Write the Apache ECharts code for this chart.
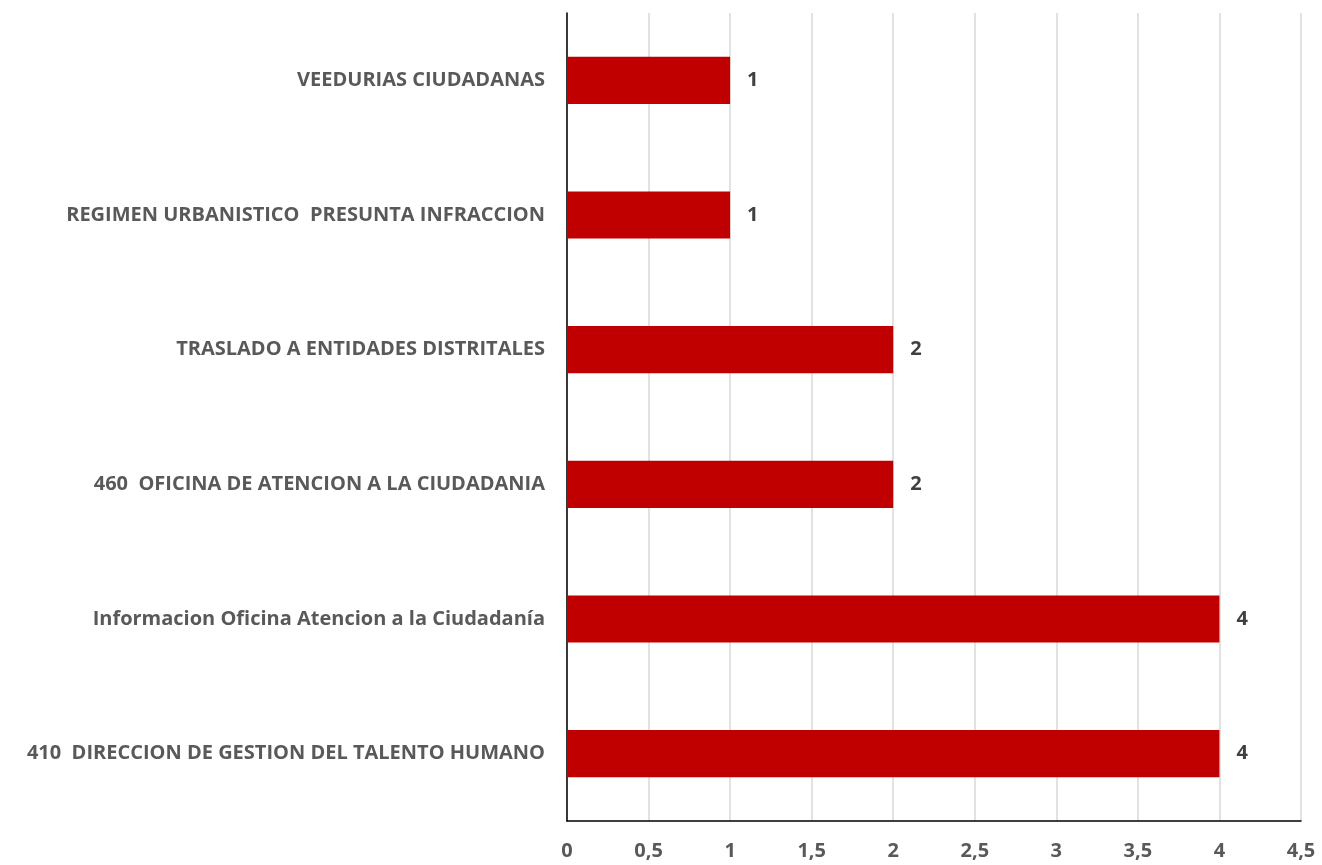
<!DOCTYPE html>
<html><head><meta charset="utf-8">
<script src="https://cdn.jsdelivr.net/npm/echarts@6/dist/echarts.min.js"></script>
<style>html,body{margin:0;padding:0;background:#fff}#c{width:1322px;height:865px}</style>
</head><body><div id="c"></div>
<script>
const categories = [
  "410  DIRECCION DE GESTION DEL TALENTO HUMANO",
  "Informacion Oficina Atencion a la Ciudadanía",
  "460  OFICINA DE ATENCION A LA CIUDADANIA",
  "TRASLADO A ENTIDADES DISTRITALES",
  "REGIMEN URBANISTICO  PRESUNTA INFRACCION",
  "VEEDURIAS CIUDADANAS"
];
const values = [4, 4, 2, 2, 1, 1];
const xTicks = ["0","0,5","1","1,5","2","2,5","3","3,5","4","4,5"];
const FONT = "Open Sans";
const chart = echarts.init(document.getElementById('c'));
chart.setOption({
  animation: false,
  grid: {left: 567, right: 21, top: 13, bottom: 44, containLabel: false},
  xAxis: {
    type: 'value', min: 0, max: 4.5, interval: 0.5,
    axisLine: {show: true, lineStyle: {color: '#000', width: 1.5}},
    axisTick: {show: false},
    splitLine: {show: true, lineStyle: {color: '#d9d9d9', width: 1.5}},
    axisLabel: {
      margin: 20, color: '#595959', fontSize: 20, fontWeight: 'bold', fontFamily: FONT,
      formatter: v => xTicks[Math.round(v / 0.5)]
    }
  },
  yAxis: {
    type: 'category', data: categories,
    axisLine: {show: true, lineStyle: {color: '#000', width: 1.5}},
    axisTick: {show: false},
    axisLabel: {margin: 22, color: '#595959', fontSize: 20, fontWeight: 'bold', fontFamily: FONT}
  },
  series: [{
    type: 'bar', data: values, barWidth: '35%',
    itemStyle: {color: '#C00000'},
    label: {show: true, position: 'right', distance: 17, color: '#404040', fontSize: 20, fontWeight: 'bold', fontFamily: FONT}
  }]
});
</script></body></html>
